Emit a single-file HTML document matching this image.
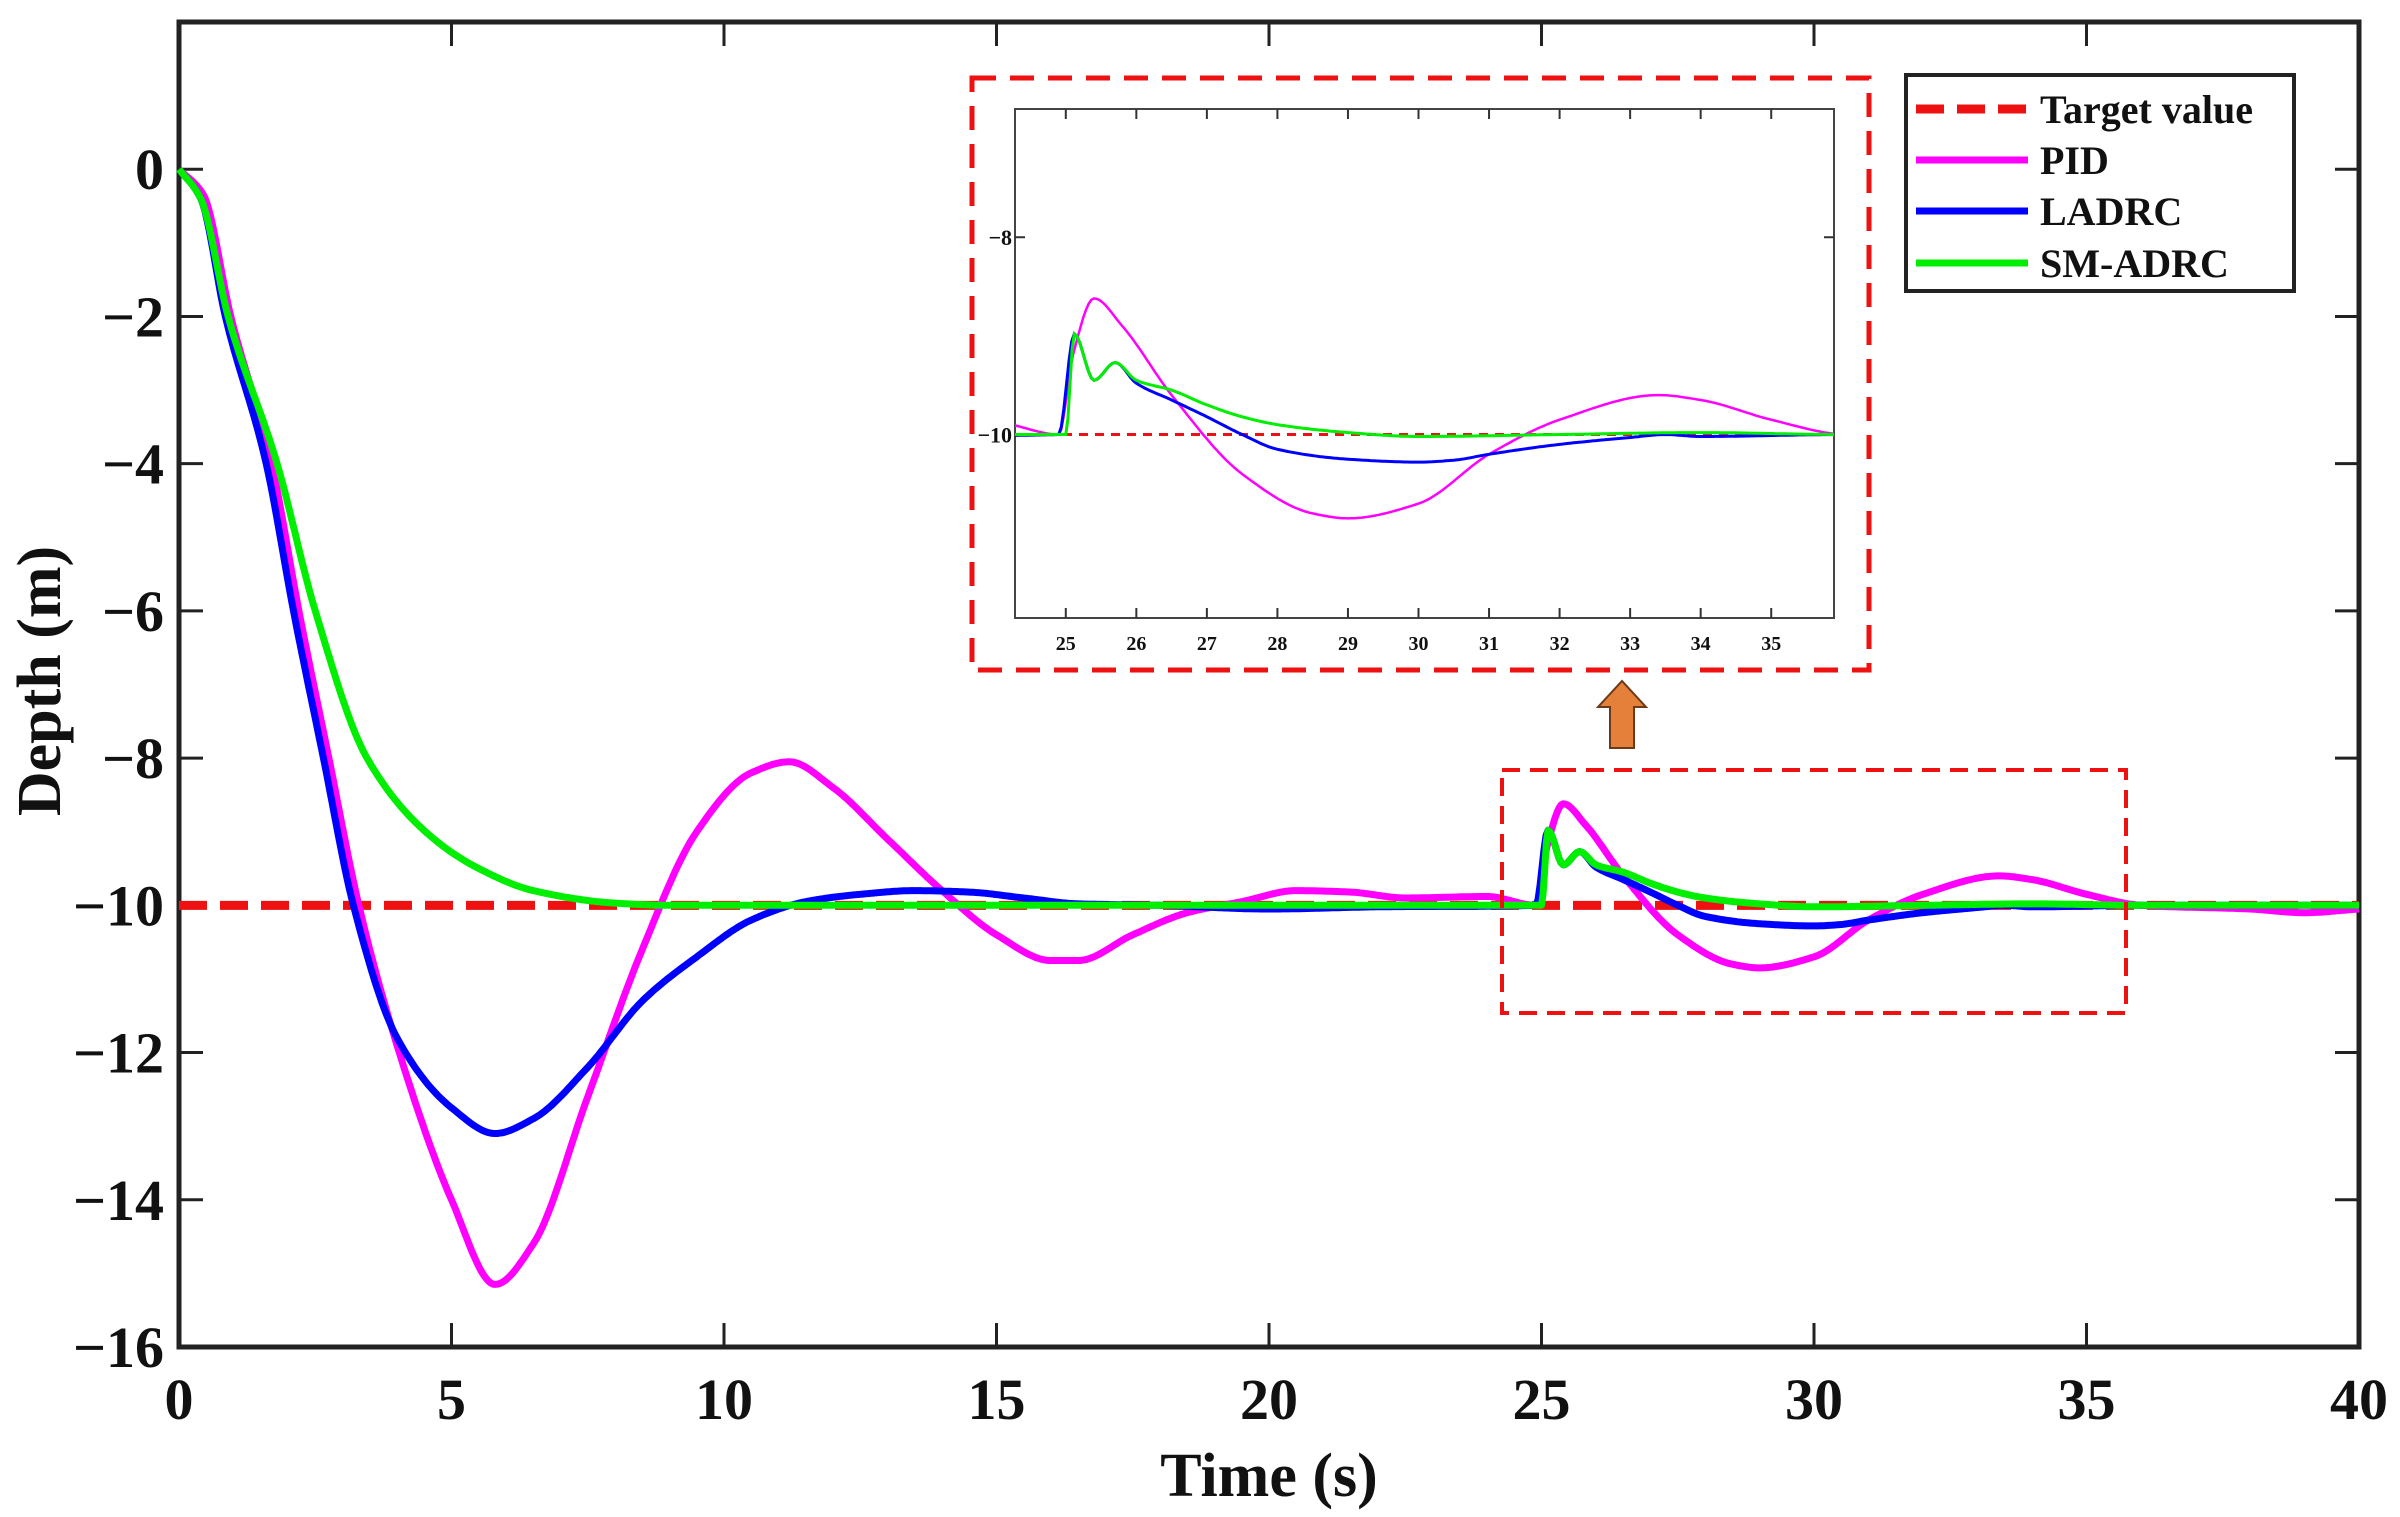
<!DOCTYPE html>
<html><head><meta charset="utf-8"><style>
html,body{margin:0;padding:0;background:#fff}
svg{display:block}
text{font-family:"Liberation Serif",serif;font-weight:bold;fill:#111}
</style></head><body>
<svg id="chart" width="2400" height="1517" viewBox="0 0 2400 1517" xmlns="http://www.w3.org/2000/svg"></svg>
<script>
const tPID=[0,0.45,0.95,1.7,2.2,2.75,3.3,4,5,5.8,6.5,7.5,8.5,9.5,10.5,11.2,12,13,14,15,16,16.5,17.5,18.5,19.5,20.5,21.5,22.5,24,24.9,25.1,25.4,25.8,26.5,27.5,28.5,29,30,31,32,33.4,34,35,36,38,39,40];
const vPID=[0,-0.35,-2,-4,-6,-8,-10,-11.9,-14.0,-15.15,-14.6,-12.6,-10.6,-9.0,-8.2,-8.05,-8.4,-9.1,-9.8,-10.4,-10.75,-10.75,-10.4,-10.1,-9.95,-9.8,-9.82,-9.9,-9.88,-10,-9.2,-8.62,-8.9,-9.6,-10.4,-10.8,-10.85,-10.7,-10.2,-9.85,-9.6,-9.65,-9.85,-10.0,-10.05,-10.1,-10.05];
const tLADRC=[0,0.4,0.85,1.6,2.1,2.65,3.2,4,5,5.8,6.5,7.5,8.5,9.5,10.5,11.5,12.5,13.5,14.5,15.5,16.5,18,20,22,24.9,25.12,25.4,25.7,26,26.5,27,27.5,28,29,30,30.5,31,32,33,33.5,34,36,40];
const vLADRC=[0,-0.4,-2,-4,-6,-8,-10,-11.8,-12.75,-13.1,-12.9,-12.2,-11.3,-10.7,-10.2,-9.95,-9.85,-9.8,-9.82,-9.9,-9.98,-10.0,-10.05,-10.02,-10.0,-8.98,-9.45,-9.27,-9.48,-9.65,-9.82,-10.0,-10.15,-10.25,-10.28,-10.26,-10.2,-10.1,-10.03,-10,-10.02,-10,-10];
const tSM=[0,0.4,0.9,1.8,2.5,3.45,4.6,5.5,6.5,8,9,25,25.12,25.4,25.7,26,26.5,27,27.5,28,29,30,32,34,36,38,40];
const vSM=[0,-0.4,-2,-4,-6,-8,-9.05,-9.5,-9.8,-9.97,-10,-10,-8.98,-9.45,-9.27,-9.45,-9.55,-9.7,-9.82,-9.9,-9.98,-10.02,-10,-9.98,-10,-10,-10];
const targetValue=-10;
const xTicks=[0,5,10,15,20,25,30,35,40];
const yTicks=[0,-2,-4,-6,-8,-10,-12,-14,-16];
const insetXTicks=[25,26,27,28,29,30,31,32,33,34,35];
const insetYTicks=[-8,-10];

const NS="http://www.w3.org/2000/svg";
const svg=document.getElementById('chart');
function mk(tag,attrs,parent){const e=document.createElementNS(NS,tag);for(const k in attrs)e.setAttribute(k,attrs[k]);(parent||svg).appendChild(e);return e;}

const M={l:179,r:2359,t:22,b:1347,x0:0,x1:40,y0:-16,y1:2};
const X=v=>M.l+(v-M.x0)/(M.x1-M.x0)*(M.r-M.l);
const Y=v=>M.b-(v-M.y0)/(M.y1-M.y0)*(M.b-M.t);
const I={l:1015,r:1834,t:109,b:618,x0:24.28,x1:35.89,y0:-11.86,y1:-6.7};
const IX=v=>I.l+(v-I.x0)/(I.x1-I.x0)*(I.r-I.l);
const IY=v=>I.b-(v-I.y0)/(I.y1-I.y0)*(I.b-I.t);

function pathD(ts,vs,fx,fy){
  const n=ts.length,d=[],m=[];
  for(let i=0;i<n-1;i++)d.push((vs[i+1]-vs[i])/(ts[i+1]-ts[i]));
  m[0]=d[0];m[n-1]=d[n-2];
  for(let i=1;i<n-1;i++){
    if(d[i-1]*d[i]<=0)m[i]=0;
    else{const w1=2*(ts[i+1]-ts[i])+(ts[i]-ts[i-1]),w2=(ts[i+1]-ts[i])+2*(ts[i]-ts[i-1]);m[i]=(w1+w2)/(w1/d[i-1]+w2/d[i]);}
  }
  let s='M'+fx(ts[0]).toFixed(1)+','+fy(vs[0]).toFixed(1);
  for(let i=0;i<n-1;i++){
    const h=ts[i+1]-ts[i],steps=Math.max(2,Math.ceil(h/0.04));
    for(let k=1;k<=steps;k++){
      const u=k/steps,u2=u*u,u3=u2*u;
      const v=(2*u3-3*u2+1)*vs[i]+(u3-2*u2+u)*h*m[i]+(-2*u3+3*u2)*vs[i+1]+(u3-u2)*h*m[i+1];
      s+='L'+fx(ts[i]+u*h).toFixed(1)+','+fy(v).toFixed(1);
    }
  }
  return s;
}

const frame=mk('rect',{x:M.l,y:M.t,width:M.r-M.l,height:M.b-M.t,fill:'none',stroke:'#222','stroke-width':5});


xTicks.forEach(v=>{
  const g=mk('g',{});
  
  
  mk('line',{x1:X(v),x2:X(v),y1:M.b,y2:M.b-24,stroke:'#222','stroke-width':3},g);
  mk('line',{x1:X(v),x2:X(v),y1:M.t,y2:M.t+24,stroke:'#222','stroke-width':3},g);
  const t=mk('text',{x:X(v),y:1419,'font-size':58,'text-anchor':'middle'},g);t.textContent=v;
});
yTicks.forEach(v=>{
  const g=mk('g',{});
  
  
  mk('line',{x1:M.l,x2:M.l+24,y1:Y(v),y2:Y(v),stroke:'#222','stroke-width':3},g);
  mk('line',{x1:M.r,x2:M.r-24,y1:Y(v),y2:Y(v),stroke:'#222','stroke-width':3},g);
  const t=mk('text',{x:164,y:Y(v)+20,'font-size':58,'text-anchor':'end'},g);t.textContent=(v<0?'\u2212'+(-v):v);
});
const xl=mk('text',{x:1269,y:1496,'font-size':62,'text-anchor':'middle'});xl.textContent='Time (s)';


const yl=mk('text',{x:0,y:0,'font-size':62,'text-anchor':'middle',transform:'translate(60,681) rotate(-90)'});yl.textContent='Depth (m)';



const tl=mk('line',{x1:X(0),x2:X(40),y1:Y(targetValue),y2:Y(targetValue),stroke:'#ee1111','stroke-width':9,'stroke-dasharray':'28 13'});


const pp=mk('path',{d:pathD(tPID,vPID,X,Y),fill:'none',stroke:'#ff00ff','stroke-width':7,'stroke-linejoin':'round'});


const lp=mk('path',{d:pathD(tLADRC,vLADRC,X,Y),fill:'none',stroke:'#0000ff','stroke-width':7,'stroke-linejoin':'round'});


const sp=mk('path',{d:pathD(tSM,vSM,X,Y),fill:'none',stroke:'#00ee00','stroke-width':7,'stroke-linejoin':'round'});



const zb=mk('rect',{x:1502,y:770,width:624,height:243,fill:'none',stroke:'#ee1111','stroke-width':4,'stroke-dasharray':'18 10'});


const ar=mk('path',{d:'M1610,748 L1610,707 L1598,707 L1622,681 L1646,707 L1634,707 L1634,748 Z',fill:'#e5803a',stroke:'#6b3a18','stroke-width':2});



const ib=mk('rect',{x:972,y:78,width:897,height:592,fill:'#fff',stroke:'#ee1111','stroke-width':5,'stroke-dasharray':'24 14'});


const ifr=mk('rect',{x:I.l,y:I.t,width:I.r-I.l,height:I.b-I.t,fill:'#fff',stroke:'#444','stroke-width':2});


insetXTicks.forEach(v=>{
  const g=mk('g',{});
  
  
  mk('line',{x1:IX(v),x2:IX(v),y1:I.b,y2:I.b-10,stroke:'#333','stroke-width':2},g);
  mk('line',{x1:IX(v),x2:IX(v),y1:I.t,y2:I.t+10,stroke:'#333','stroke-width':2},g);
  const t=mk('text',{x:IX(v),y:650,'font-size':20,'text-anchor':'middle'},g);t.textContent=v;
});
insetYTicks.forEach(v=>{
  const g=mk('g',{});
  
  
  mk('line',{x1:I.l,x2:I.l+10,y1:IY(v),y2:IY(v),stroke:'#333','stroke-width':2},g);
  mk('line',{x1:I.r,x2:I.r-10,y1:IY(v),y2:IY(v),stroke:'#333','stroke-width':2},g);
  const t=mk('text',{x:I.l-3,y:IY(v)+8,'font-size':22,'text-anchor':'end'},g);t.textContent='\u2212'+(-v);
});
const cp=mk('clipPath',{id:'insetClip'});mk('rect',{x:I.l,y:I.t,width:I.r-I.l,height:I.b-I.t},cp);
const ig=mk('g',{'clip-path':'url(#insetClip)'});


const itl=mk('line',{x1:I.l,x2:I.r,y1:IY(targetValue),y2:IY(targetValue),stroke:'#ee1111','stroke-width':3,'stroke-dasharray':'9 7'},ig);


const ipp=mk('path',{d:pathD(tPID,vPID,IX,IY),fill:'none',stroke:'#ff00ff','stroke-width':2.5},ig);


const ilp=mk('path',{d:pathD(tLADRC,vLADRC,IX,IY),fill:'none',stroke:'#0000ff','stroke-width':3},ig);


const isp=mk('path',{d:pathD(tSM,vSM,IX,IY),fill:'none',stroke:'#00ee00','stroke-width':3},ig);



const lg=mk('g',{});


mk('rect',{x:1906,y:75,width:388,height:216,fill:'#fff',stroke:'#222','stroke-width':4},lg);
const legNames=['Target value','PID','LADRC','SM-ADRC'];
const legColors=['#ee1111','#ff00ff','#0000ff','#00ee00'];
const legY=[109,160,211,263];
legNames.forEach((n,i)=>{
  const e=mk('g',{},lg);
  
  
  const a={x1:1916,x2:2028,y1:legY[i],y2:legY[i],stroke:legColors[i],'stroke-width':i===0?9:7};
  if(i===0)a['stroke-dasharray']='28 13';
  mk('line',a,e);
  const t=mk('text',{x:2040,y:legY[i]+14,'font-size':40},e);t.textContent=n;
});
</script>
</body></html>
